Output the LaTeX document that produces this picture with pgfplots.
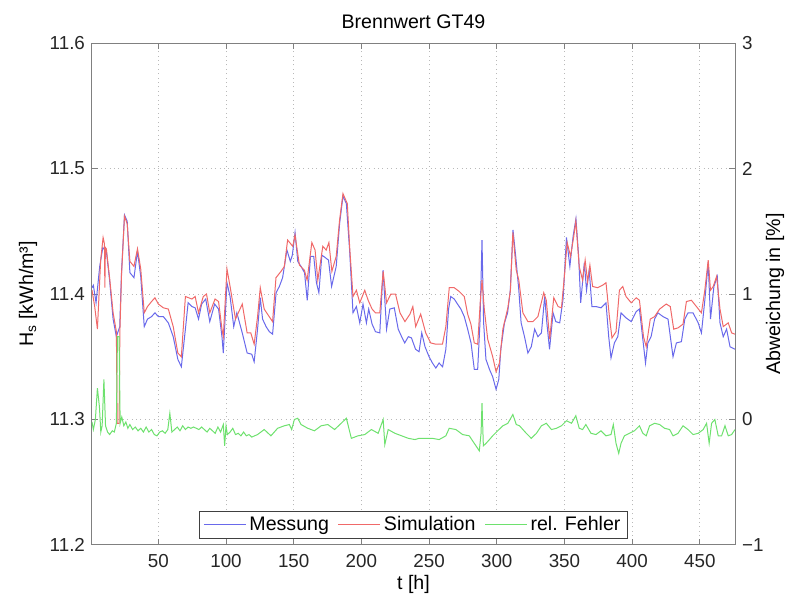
\documentclass[border=0pt]{standalone}
\usepackage{fontspec}
\setmainfont{Liberation Sans}
\usepackage{pgfplots}
\pgfplotsset{compat=1.18}

\definecolor{messung}{RGB}{105,105,235}
\definecolor{simulation}{RGB}{240,105,105}
\definecolor{fehler}{RGB}{110,225,110}
\definecolor{rahmen}{RGB}{128,128,128}

\pgfplotsset{
  gt49/.style={
    width=321.5pt, height=251pt, scale only axis,
    xmin=1, xmax=476,
    axis line style={rahmen, line width=0.5pt},
    tick style={rahmen, line width=0.5pt},
    tick align=inside,
    major tick length=3pt,
    /pgf/number format/assume math mode=true,
    tick label style={font=\fontsize{9.4}{11}\selectfont, text=black!85},
    every axis plot/.append style={line width=0.5pt},
  },
}

\begin{document}
\begin{tikzpicture}[font=\fontsize{9.8}{12}\selectfont]
\useasboundingbox (-46pt,-24.5pt) rectangle (347.5pt,272.5pt);

% linke Achse: Brennwert
\begin{axis}[gt49, name=ax,
  ymin=11.2, ymax=11.6,
  xtick={50,100,...,450},
  xtick pos=both, ytick pos=left,
  ytick={11.2,11.3,11.4,11.5,11.6},
  yticklabels={11.2,11.3,11.4,11.5,11.6},
  xticklabel style={anchor=base, yshift=-11.5pt},
  grid=major,
  major grid style={rahmen!55, line width=0.5pt, dash pattern=on 0.5pt off 1.7pt},
]
\addplot[messung] coordinates {
(1,11.405) (2,11.407) (4,11.393) (6.7,11.422) (9,11.437) (11.6,11.434) (14,11.411) (16.6,11.38) (19,11.366) (21.5,11.374) (22.8,11.417) (25,11.463) (27,11.458) (29,11.417) (32,11.413) (34.6,11.434) (37,11.414) (39.6,11.374) (42,11.38) (45,11.382) (47.5,11.385) (50,11.382) (53.7,11.382) (57.4,11.377) (61,11.366) (64.4,11.348) (67,11.342) (70,11.372) (72,11.393) (74.8,11.39) (77.2,11.389) (79.7,11.38) (82,11.392) (85,11.396) (88,11.378) (91.6,11.392) (94.5,11.388) (97,11.366) (98,11.353) (100.7,11.409) (103,11.398) (105.7,11.374) (108,11.385) (112,11.369) (115.6,11.353) (119,11.352)
(120.8,11.346) (123.3,11.372) (125.3,11.397) (127,11.38) (129.6,11.374) (132,11.37) (134.4,11.368) (137,11.401) (139.4,11.406) (141.8,11.413) (145,11.435) (147.5,11.426) (149,11.431) (151,11.449) (153,11.426) (155.4,11.422) (158,11.417) (160,11.395) (162.4,11.43) (164.8,11.43) (166.8,11.409) (168.6,11.401) (170.8,11.431) (173.3,11.429) (175.7,11.427) (178,11.406) (181.4,11.422) (183.9,11.456) (186.4,11.478) (188.9,11.472) (191.3,11.435) (193.8,11.385) (196.3,11.39) (198.8,11.377) (201.2,11.392) (203.7,11.377) (205.4,11.388) (207.9,11.376) (210.4,11.37) (213.6,11.369) (216,11.419) (218.6,11.372) (221,11.388) (224.3,11.389) (227.2,11.372) (229.7,11.366) (232,11.361) (234.7,11.366) (237,11.365)
(240,11.356) (242.6,11.354) (244.6,11.369) (247,11.358) (250,11.35) (252.5,11.345) (255,11.341) (257.4,11.345) (260,11.342) (262.4,11.356) (264.4,11.388) (266,11.398) (268.6,11.396) (271,11.392) (273.5,11.388) (276,11.382) (278.5,11.372) (281,11.361) (283.4,11.34) (285.9,11.34) (287.6,11.377) (289.1,11.443) (290.3,11.377) (292,11.348) (294.6,11.34) (297,11.334) (299.5,11.324) (301.5,11.332) (303,11.356) (305.7,11.377) (308,11.385) (310,11.403) (312,11.451) (314,11.43) (316.3,11.403) (318,11.377) (320.5,11.366) (323,11.353) (325.5,11.358) (328,11.372) (330.4,11.366) (333,11.369) (335.4,11.398) (337,11.377) (339,11.356) (341.6,11.385) (343.6,11.378) (346.5,11.377) (349,11.396) (351.5,11.445) (354,11.422) (356.4,11.446)
(358.5,11.46) (360.5,11.43) (362,11.393) (364.7,11.425) (366.3,11.403) (368.3,11.419) (370.3,11.39) (373.3,11.39) (377,11.389) (380.7,11.393) (382.7,11.366) (384.4,11.349) (386.9,11.361) (389.4,11.366) (391.8,11.385) (395.5,11.381) (399.3,11.378) (403,11.386) (405.4,11.388) (407.9,11.364) (409.9,11.345) (411.6,11.361) (414,11.366) (416.6,11.38) (419,11.385) (422.8,11.382) (426.5,11.38) (430.2,11.35) (432.7,11.361) (436.4,11.362) (438.9,11.38) (441.3,11.385) (445,11.385) (448.8,11.377) (451.2,11.369) (453.7,11.395) (456.2,11.425) (457.9,11.38) (460.4,11.406) (462.9,11.414) (464.9,11.377) (467.3,11.366) (469.8,11.372) (472.3,11.358) (476,11.356)
};
\addplot[simulation] coordinates {
(1,11.403) (3,11.39) (5,11.372) (7.4,11.427) (9.2,11.445) (10.2,11.44) (10.5,11.405) (10.9,11.437) (11.6,11.436) (14,11.413) (16.6,11.385) (19,11.37) (19.6,11.297) (21,11.297) (21.6,11.37) (22.8,11.415) (25,11.462) (27,11.456) (29,11.426) (32,11.422) (34.6,11.436) (37,11.42) (39.6,11.385) (42,11.39) (45,11.394) (47.5,11.397) (50,11.392) (53.7,11.389) (57.4,11.388) (61,11.374) (64.4,11.353) (67,11.35) (70,11.398) (74.8,11.396) (77.2,11.398) (79.7,11.385) (83.2,11.398) (85.6,11.4) (88,11.385) (91.9,11.396) (94.5,11.394) (97,11.372) (98,11.366) (100.7,11.42) (103,11.406) (107,11.38) (112,11.392) (115.6,11.369) (118.3,11.369)
(120.8,11.36) (123.3,11.382) (125.3,11.405) (128.2,11.388) (131.9,11.382) (134.4,11.378) (136.9,11.413) (140.6,11.418) (143.1,11.422) (145.5,11.443) (149.3,11.438) (151,11.447) (154.2,11.423) (157.9,11.419) (159.9,11.411) (163.4,11.441) (165.8,11.435) (167.8,11.411) (171.5,11.438) (174,11.435) (176,11.441) (178.2,11.418) (181.4,11.43) (183.9,11.459) (186.4,11.48) (189.6,11.472) (191.3,11.438) (193.8,11.398) (196.3,11.403) (198.8,11.393) (202.5,11.403) (205,11.395) (207.9,11.388) (210.4,11.385) (213.6,11.385) (216.1,11.418) (218.6,11.393) (221.8,11.4) (225.2,11.4) (228.5,11.385) (232.2,11.378) (235.9,11.384) (238,11.39)
(240.1,11.374) (243.8,11.384) (247.5,11.369) (251.2,11.361) (255,11.36) (259.9,11.36) (262.4,11.374) (264.9,11.405) (268.6,11.405) (272.3,11.402) (276,11.398) (278.5,11.384) (280.9,11.376) (283.4,11.361) (285.9,11.36) (287.9,11.395) (289.1,11.411) (290.8,11.388) (293.3,11.364) (297,11.35) (299.5,11.338) (302,11.345) (304.5,11.372) (308.2,11.389) (310.1,11.403) (311.9,11.449) (314.4,11.419) (316.3,11.411) (319.3,11.385) (323,11.378) (326.7,11.378) (330.4,11.382) (334.7,11.401) (336.6,11.395) (339.1,11.364) (342.1,11.397) (345.3,11.39) (347.8,11.389) (350.2,11.417) (352,11.441) (354.5,11.43) (356.9,11.446)
(358.4,11.458) (360.9,11.422) (363.4,11.411) (365.3,11.427) (367.1,11.41) (368.8,11.423) (370.8,11.406) (374.5,11.405) (378.2,11.407) (380.7,11.409) (383.2,11.382) (385.1,11.365) (388.1,11.37) (390.6,11.403) (393.1,11.406) (395.5,11.398) (399.3,11.393) (403,11.397) (405.4,11.395) (408.4,11.366) (410.4,11.358) (413.4,11.38) (416.6,11.382) (420.3,11.388) (425.2,11.392) (428.2,11.39) (430.7,11.372) (433.9,11.373) (437.6,11.376) (440.1,11.394) (443.8,11.395) (447.5,11.39) (451.2,11.385) (453.7,11.403) (456.2,11.427) (457.9,11.403) (459.9,11.406) (462.4,11.414) (464.9,11.388) (467.3,11.374) (471,11.377) (473.5,11.369) (476,11.368)
};
\end{axis}

% rechte Achse: relativer Fehler
\begin{axis}[gt49,
  axis y line*=right, axis x line=none,
  ymin=-1, ymax=3,
  ytick={-1,0,1,2,3},
  yticklabels={−1,0,1,2,3},
  legend columns=3,
  legend style={at={(0.5,0.012)}, anchor=south,
    draw=black!75, line width=0.5pt, fill=white,
    font=\fontsize{9.8}{12}\selectfont,
    inner xsep=2pt, inner ysep=1pt,
    nodes={inner sep=1.5pt},
    /tikz/every even column/.append style={column sep=3pt}},
  legend image code/.code={\draw[#1, line width=0.5pt] (0pt,0pt) -- (21pt,0pt);},
]
\addlegendimage{messung}
\addlegendentry{Messung}
\addlegendimage{simulation}
\addlegendentry{Simulation}
\addplot[fehler] coordinates {
(1,-0.02) (2,-0.08) (3.5,0.0) (5,0.25) (6.5,0.1) (7.5,-0.1) (8.5,-0.05) (9.8,0.32) (11,-0.05) (12.5,-0.1) (14,-0.12) (16,-0.09) (17.5,-0.1) (19,-0.03) (19.8,0.66) (21,0.66) (21.8,-0.03) (23,0.02) (24.5,-0.05) (26,-0.02) (27.5,-0.07) (29,-0.04) (31,-0.08) (33,-0.06) (35,-0.09) (37,-0.07) (39,-0.1) (41,-0.06) (43,-0.1) (45,-0.08) (47,-0.12) (49,-0.13) (51,-0.1) (53,-0.09) (55,-0.11) (57,-0.08) (58.5,0.05) (60,-0.1) (62,-0.08) (64,-0.06) (66,-0.09) (68,-0.05) (70,-0.08) (72,-0.06) (74,-0.07) (76,-0.06) (78,-0.07) (80,-0.08) (82,-0.06) (84,-0.08) (86,-0.1) (88,-0.07) (90,-0.09) (92,-0.11) (94,-0.06) (96,-0.1) (98,-0.04) (99,-0.21) (100,-0.05) (101,-0.12) (103,-0.1) (105,-0.07) (107,-0.12) (109,-0.11) (111,-0.13) (113,-0.1) (115,-0.13) (117,-0.12)
(119,-0.14) (123.3,-0.12) (128.2,-0.08) (133.2,-0.13) (138.1,-0.07) (143.1,-0.05) (146.8,-0.04) (148.5,-0.08) (150.5,0.0) (153,0.01) (155.4,-0.04) (160.4,-0.07) (165.3,-0.09) (170.3,-0.05) (175.2,-0.04) (180.2,-0.08) (185.1,-0.03) (188.9,0.01) (192.6,-0.15) (197.5,-0.13) (202.5,-0.12) (207.4,-0.08) (212.4,-0.11) (216.1,0.0) (217.3,-0.2) (219.8,-0.08) (224.8,-0.11) (229.7,-0.13) (234.7,-0.15) (239.6,-0.16)
(242.6,-0.15) (247.5,-0.15) (252.5,-0.15) (257.4,-0.16) (262.4,-0.13) (264.9,-0.07) (269.8,-0.08) (274.8,-0.12) (279.7,-0.13) (283.4,-0.19) (285.9,-0.23) (287.1,-0.25) (288.4,-0.11) (289.1,0.13) (290.1,-0.21) (292.1,-0.19) (294.6,-0.16) (297,-0.13) (300.7,-0.09) (304.5,-0.05) (308.2,-0.03) (311.9,0.04) (314.4,-0.04) (316.8,-0.05) (321.8,-0.11) (325.5,-0.15) (329.3,-0.11) (333,-0.05) (336.6,-0.03) (340.4,-0.08) (344.1,-0.07) (347.8,-0.05) (351.5,-0.01) (355.2,-0.03)
(358.4,0.03) (360.9,-0.07) (363.4,-0.08) (365.8,-0.04) (369.6,-0.11) (373.3,-0.12) (377,-0.09) (380.7,-0.13) (384.4,-0.12) (386.1,-0.04) (388.1,-0.19) (390.1,-0.27) (391.8,-0.19) (394.3,-0.13) (398,-0.11) (401.7,-0.09) (405.4,-0.05) (407.9,-0.11) (410.4,-0.13) (412.9,-0.05) (416.6,-0.03) (420.3,-0.04) (424,-0.07) (427.7,-0.08) (430.2,-0.13) (433.9,-0.11) (437.6,-0.05) (441.3,-0.08) (445,-0.12) (448.8,-0.11) (452.5,-0.08) (455,-0.03) (456.9,-0.19) (458.7,-0.03) (461.1,0.0) (463.6,-0.13) (466.1,-0.13) (468.6,-0.05) (471,-0.13) (473.5,-0.12) (476,-0.08)
};
\addlegendentry{rel. Fehler}
\end{axis}

\node[anchor=base] at ([yshift=7.4pt]ax.north) {Brennwert GT49};
\node[anchor=base] at ([yshift=-22pt]ax.south) {t [h]};
\node[rotate=90, anchor=center] at ([xshift=-32pt]ax.west) {H\textsubscript{s} [kWh/m³]};
\node[rotate=90, anchor=center] at ([xshift=20pt]ax.east) {Abweichung in [\%]};
\end{tikzpicture}
\end{document}
